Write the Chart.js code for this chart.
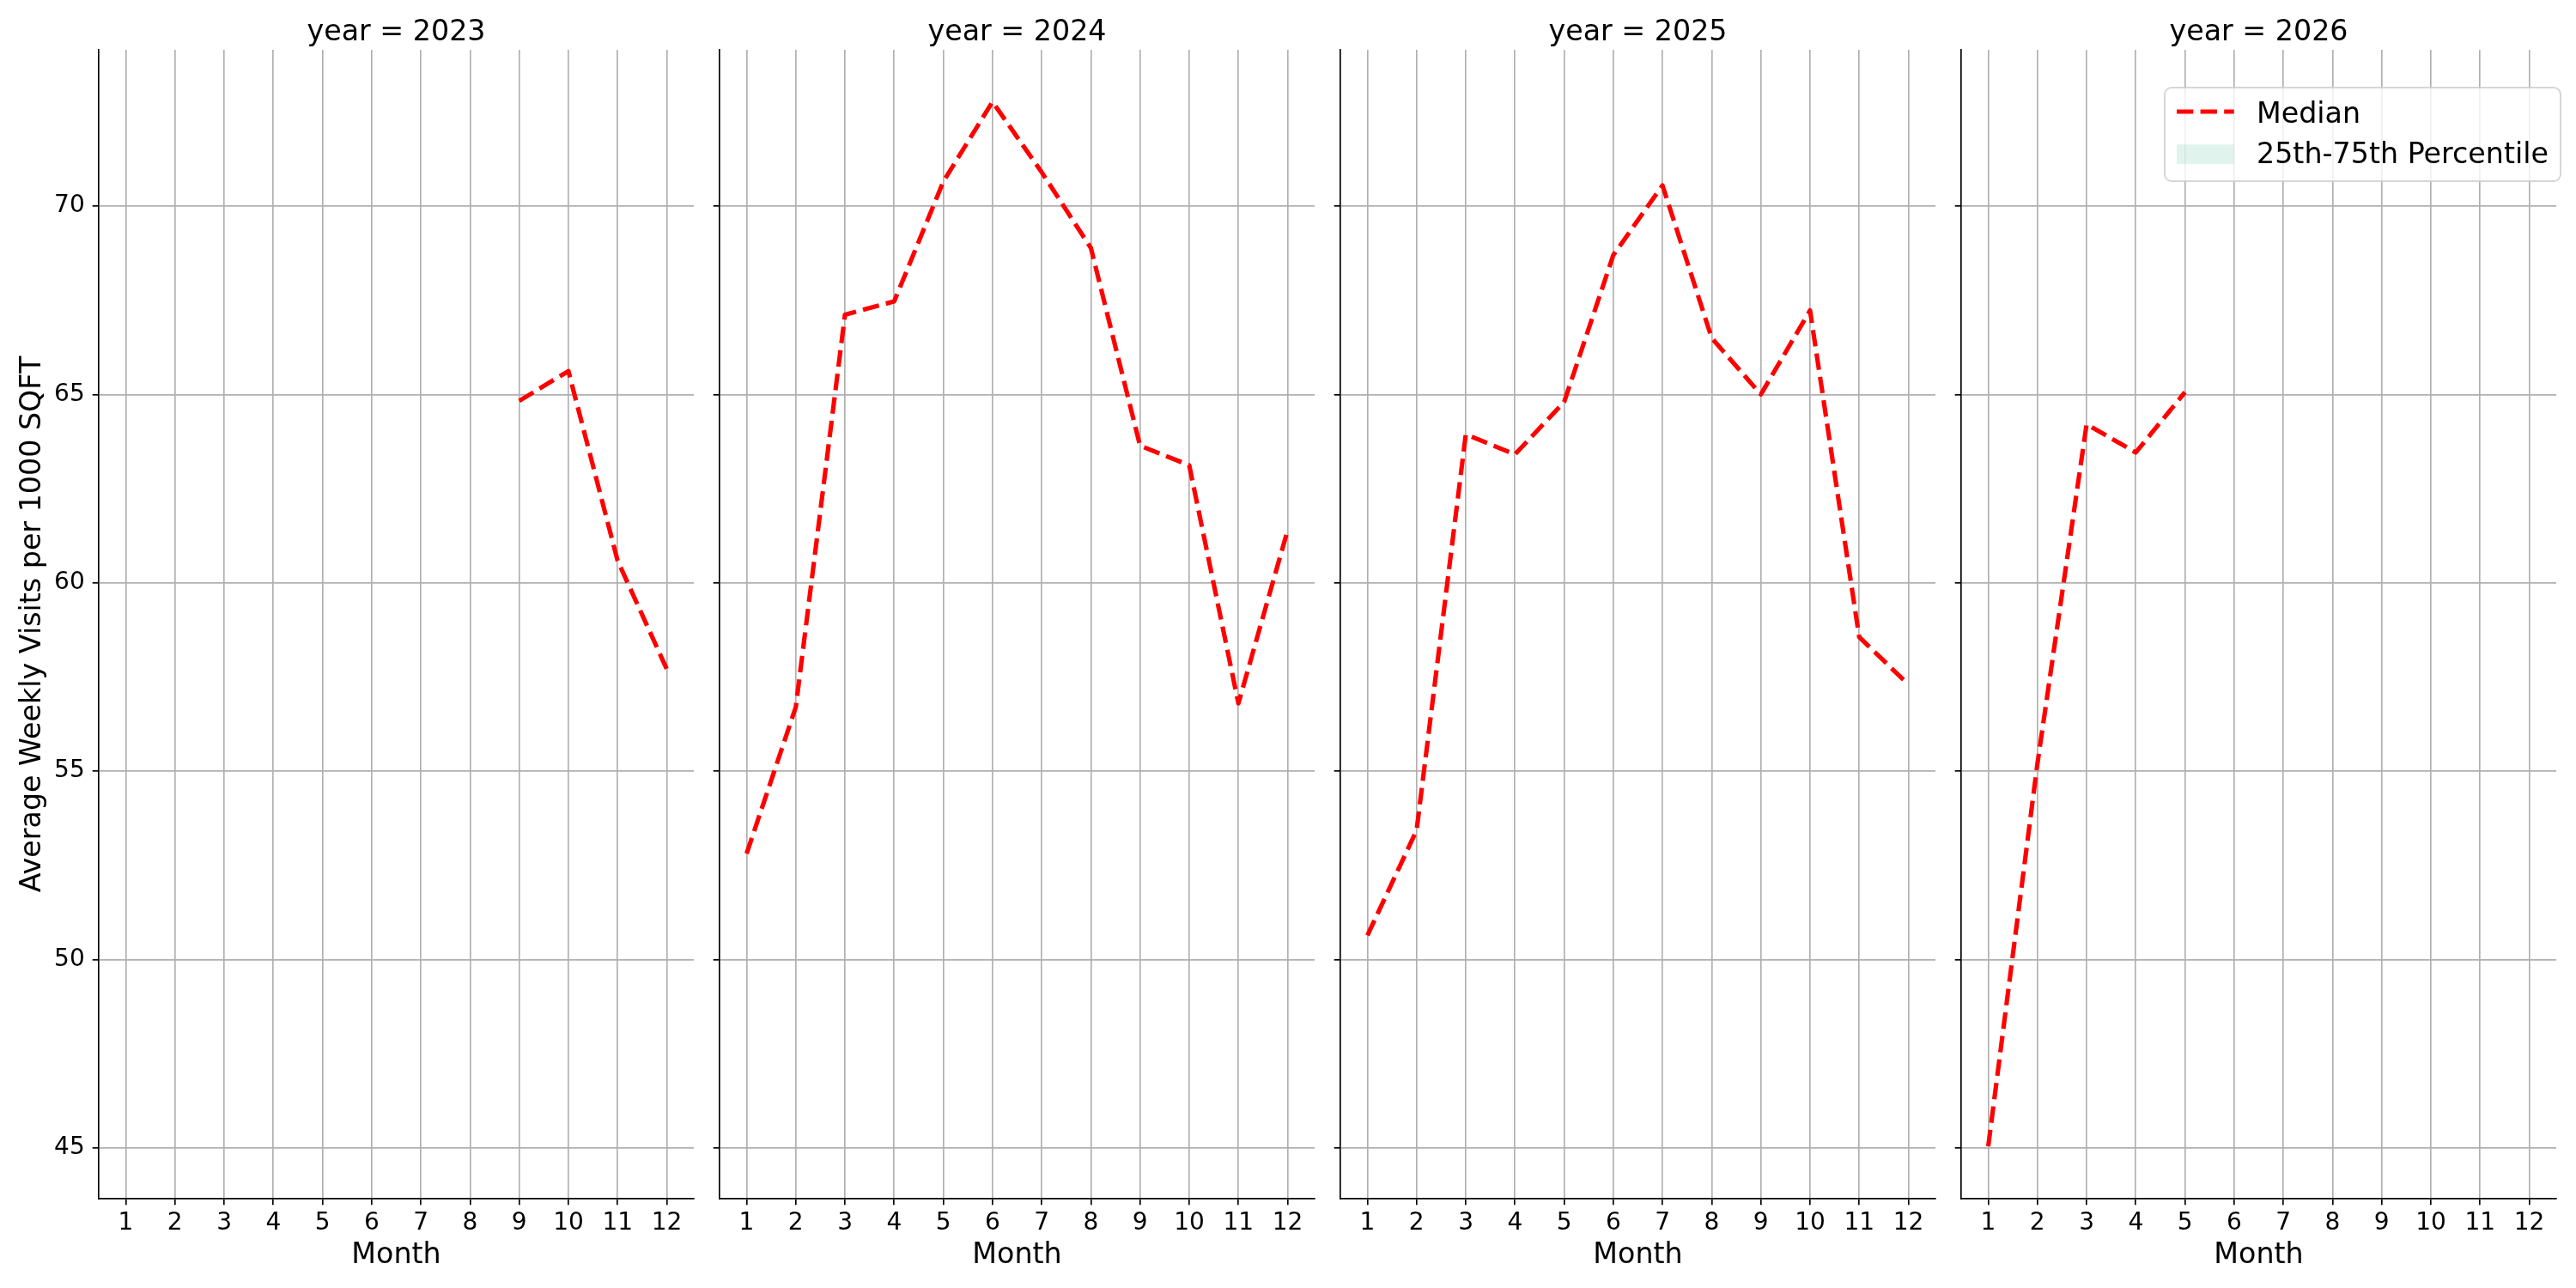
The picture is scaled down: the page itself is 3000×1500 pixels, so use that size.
<!DOCTYPE html>
<html><head><meta charset="utf-8">
<script src="https://cdn.jsdelivr.net/npm/chart.js@4.4.1/dist/chart.umd.min.js"></script>
<style>
html,body{margin:0;padding:0;background:#fff;overflow:hidden;width:3000px;height:1500px;}
#wrap{position:relative;width:3000px;height:1500px;background:#fff;}
canvas{position:absolute;top:0;}
</style></head><body><div id="wrap"></div>
<script>
// ---- data ----
const years = [2023, 2024, 2025, 2026];
const months = [1, 2, 3, 4, 5, 6, 7, 8, 9, 10, 11, 12];
const median2023 = [null, null, null, null, null, null, null, null, 64.83, 65.62, 60.59, 57.71];
const median2024 = [52.81, 56.7, 67.12, 67.47, 70.65, 72.77, 70.9, 68.89, 63.64, 63.12, 56.8, 61.39];
const median2025 = [50.64, 53.43, 63.94, 63.41, 64.8, 68.7, 70.55, 66.5, 65.0, 67.23, 58.56, 57.3];
const median2026 = [45.04, 55.2, 64.21, 63.46, 65.06, null, null, null, null, null, null, null];
const yTicks = [45, 50, 55, 60, 65, 70];
const seriesLabels = ['Median', '25th-75th Percentile'];
const xTitle = 'Month';
const yTitle = 'Average Weekly Visits per 1000 SQFT';
const medians = [median2023, median2024, median2025, median2026];

// ---- layout / style ----
const PANEL_LEFT0 = 115, PANEL_STEP = 723, PANEL_W = 693, AXIS_W = 115, RIGHT_PAD = 10;
const FONT = "'DejaVu Sans'";
Chart.defaults.font.family = FONT;
Chart.defaults.color = '#000';

const legendPlugin = {
  id: 'boxLegend',
  afterDraw(chart, args, opts) {
    if (!opts.show) return;
    const ctx = chart.ctx, ca = chart.chartArea;
    const w = 461, h = 109;
    const right = ca.right + 5, top = ca.top + 44, left = right - w;
    const ds = chart.data.datasets;
    ctx.save();
    ctx.beginPath();
    if (ctx.roundRect) ctx.roundRect(left, top, w, h, 8); else ctx.rect(left, top, w, h);
    ctx.fillStyle = 'rgba(255,255,255,0.8)';
    ctx.fill();
    ctx.lineWidth = 2;
    ctx.strokeStyle = 'rgba(204,204,204,0.8)';
    ctx.stroke();
    const hx = left + 14, hw = 66.7;
    ctx.beginPath();
    ctx.setLineDash(ds[0].borderDash);
    ctx.lineCap = 'butt';
    ctx.strokeStyle = ds[0].borderColor;
    ctx.lineWidth = ds[0].borderWidth;
    ctx.moveTo(hx, top + 28);
    ctx.lineTo(hx + hw, top + 28);
    ctx.stroke();
    ctx.setLineDash([]);
    ctx.fillStyle = ds[1].backgroundColor;
    ctx.fillRect(hx, top + 66.3, hw, 22.6);
    ctx.fillStyle = '#000';
    ctx.font = '33.3px ' + FONT;
    ctx.textBaseline = 'alphabetic';
    ctx.textAlign = 'left';
    ctx.fillText(ds[0].label, left + 107, top + 40.7);
    ctx.fillText(ds[1].label, left + 107, top + 88.3);
    ctx.restore();
  }
};

const wrap = document.getElementById('wrap');
const gridOpts = { color: '#b0b0b0', lineWidth: 1.67, tickLength: 7.3, tickColor: '#000', tickWidth: 1.67, drawTicks: true };
const borderOpts = { display: true, color: '#000', width: 1.67 };

medians.forEach((vals, i) => {
  const cv = document.createElement('canvas');
  cv.width = AXIS_W + PANEL_W + RIGHT_PAD;
  cv.height = 1500;
  cv.style.left = (PANEL_LEFT0 + i * PANEL_STEP - AXIS_W) + 'px';
  cv.style.width = cv.width + 'px';
  cv.style.height = '1500px';
  wrap.appendChild(cv);
  new Chart(cv, {
    type: 'line',
    data: {
      datasets: [
        {
          label: seriesLabels[0],
          data: months.map((m, k) => ({ x: m, y: vals[k] })),
          borderColor: '#ff0000',
          borderWidth: 5.2,
          borderDash: [19.3, 8.3],
          borderCapStyle: 'butt',
          borderJoinStyle: 'round',
          pointRadius: 0,
          pointHoverRadius: 0,
          fill: false,
          tension: 0,
          spanGaps: false
        },
        {
          label: seriesLabels[1],
          data: [],
          backgroundColor: 'rgba(102,194,165,0.2)',
          borderColor: 'rgba(102,194,165,0.2)',
          borderWidth: 0,
          pointRadius: 0,
          fill: false
        }
      ]
    },
    options: {
      responsive: false,
      animation: false,
      devicePixelRatio: 1,
      events: [],
      layout: { padding: { left: 0, right: RIGHT_PAD, top: 0, bottom: 0 } },
      plugins: {
        legend: { display: false },
        tooltip: { enabled: false },
        title: {
          display: true,
          text: 'year = ' + years[i],
          font: { size: 33.3, weight: 'normal', family: FONT, lineHeight: 1.15 },
          color: '#000',
          padding: { top: 19, bottom: 0.7 },
          fullSize: false
        },
        boxLegend: { show: i === 3 }
      },
      scales: {
        x: {
          type: 'linear',
          min: 0.45,
          max: 12.55,
          afterBuildTicks: s => { s.ticks = months.map(v => ({ value: v })); },
          afterFit: s => { s.height = 104; },
          ticks: { autoSkip: false, maxRotation: 0, minRotation: 0, padding: 5, font: { size: 28 }, color: '#000', callback: v => String(v) },
          grid: gridOpts,
          border: borderOpts,
          title: { display: true, text: xTitle, font: { size: 33.3 }, color: '#000', padding: { top: 0, bottom: 18 } }
        },
        y: {
          type: 'linear',
          min: 43.65,
          max: 74.15,
          afterBuildTicks: s => { s.ticks = yTicks.map(v => ({ value: v })); },
          afterFit: s => { s.width = AXIS_W; },
          ticks: { padding: 9, font: { size: 28 }, color: '#000', callback: v => (i === 0 ? String(v) : '') },
          grid: gridOpts,
          border: borderOpts,
          title: { display: i === 0, text: yTitle, font: { size: 33.3 }, color: '#000', padding: { top: 18, bottom: 0 } }
        }
      }
    },
    plugins: [legendPlugin]
  });
});
</script>
</body></html>
